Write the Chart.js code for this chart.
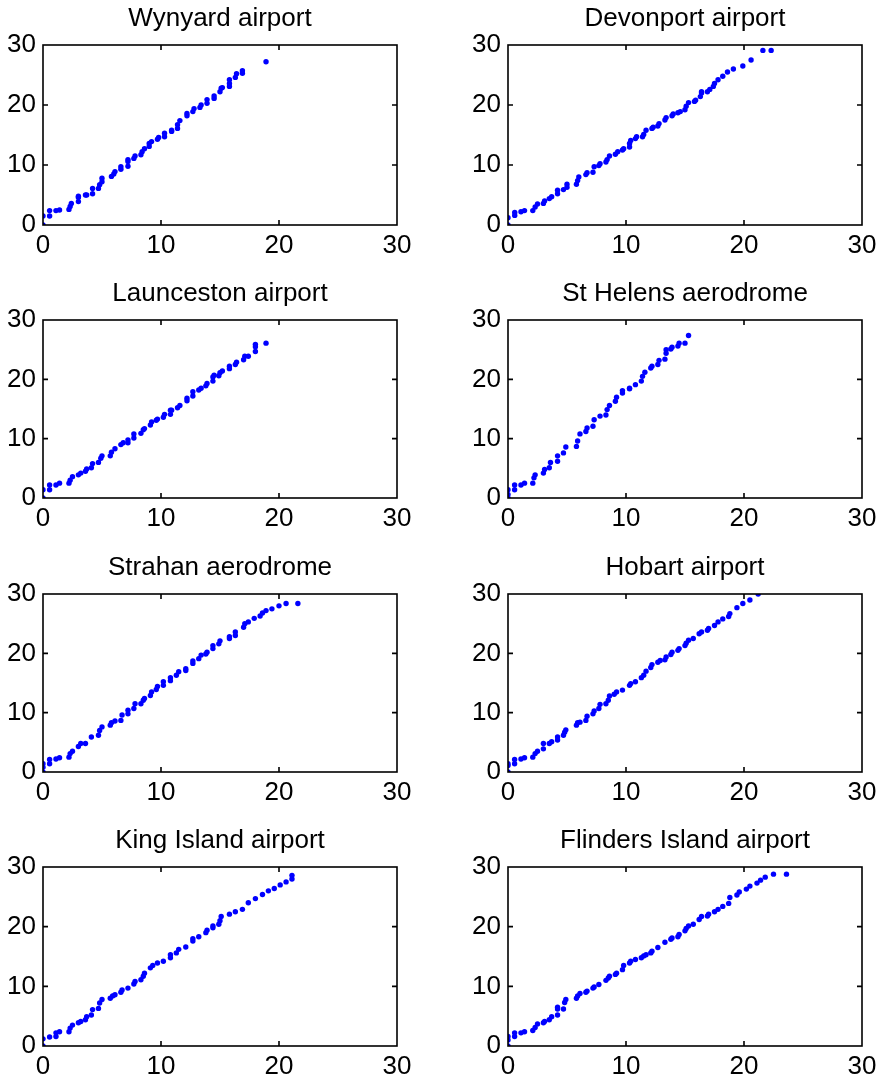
<!DOCTYPE html>
<html>
<head>
<meta charset="utf-8">
<title>Wind speed quantile plots</title>
<script src="https://cdn.jsdelivr.net/npm/chart.js@4.4.1/dist/chart.umd.min.js"></script>
<style>
  html, body { margin: 0; padding: 0; background: #fff; }
  #figure { position: relative; width: 884px; height: 1084px; }
  #figure canvas { position: absolute; }
</style>
</head>
<body>
<div id="figure"></div>
<script>
// ==========================================
// 1. DATA
// ==========================================
const stationNames = [
    'Wynyard airport', 'Devonport airport',
    'Launceston airport', 'St Helens aerodrome',
    'Strahan aerodrome', 'Hobart airport',
    'King Island airport', 'Flinders Island airport'
];

const axisTicks = [0, 10, 20, 30];

const wynyard = [[0,0],[0,1.5],[0.56,1.5],[0.56,2.4],[1.1,2.4],[1.4,2.5],[2.2,2.6],[2.3,3.1],[2.4,3.6],
    [3.0,3.9],[3.0,4.6],[3.0,4.8],[3.6,5.0],[3.7,5.0],[4.2,5.2],[4.2,6.1],[4.7,6.1],[4.8,6.7],[5.0,7.2],[5.0,7.8],
    [5.8,8.1],[6.0,8.5],[6.1,8.9],[6.6,9.3],[6.6,9.7],[7.2,9.8],[7.2,10.6],[7.2,10.9],[7.7,11.1],[7.8,11.5],
    [8.3,11.7],[8.4,12.2],[8.6,12.7],[9.0,13.1],[9.0,13.6],[9.2,13.9],[9.7,14.3],[9.8,14.6],[10.3,14.7],[10.3,15.3],
    [10.9,15.6],[10.9,15.8],[11.4,16.1],[11.4,16.7],[11.6,17.4],[12.2,18.2],[12.2,18.6],[12.7,18.9],[12.8,19.4],
    [13.3,19.6],[13.4,20.0],[13.9,20.3],[13.9,20.9],[14.5,21.1],[14.5,21.5],[15.0,22.2],[15.1,22.8],[15.2,22.9],
    [15.8,23.1],[15.8,23.6],[15.8,24.2],[16.3,24.6],[16.4,25.2],[16.9,25.3],[16.9,25.7],[18.9,27.2]];

const devonport = [[0,0],[0,1.2],[0.57,1.6],[0.57,2.1],[1.1,2.2],[1.4,2.4],[2.1,2.4],[2.3,3.0],[2.5,3.5],
    [3.0,3.6],[3.1,4.0],[3.5,4.4],[3.7,4.7],[4.2,5.2],[4.2,5.8],[4.7,5.9],[5.0,6.3],[5.0,6.8],[5.8,6.8],[5.9,7.4],
    [6.0,8.0],[6.6,8.4],[6.7,8.7],[7.2,8.8],[7.3,9.7],[7.7,9.9],[7.8,10.2],[8.3,10.5],[8.4,10.9],[8.6,11.5],
    [9.1,11.8],[9.3,12.2],[9.7,12.5],[9.8,12.7],[10.3,13.0],[10.3,13.6],[10.4,14.1],[10.8,14.4],[10.9,14.7],
    [11.4,14.7],[11.5,15.1],[11.7,15.8],[12.2,16.1],[12.3,16.3],[12.7,16.5],[12.8,16.9],[13.3,17.5],[13.4,17.9],
    [13.9,18.2],[14.0,18.5],[14.4,18.7],[14.6,18.9],[15.0,19.2],[15.1,19.8],[15.3,20.4],[15.8,20.6],[15.9,20.8],
    [16.3,21.4],[16.4,22.0],[16.4,22.2],[16.9,22.2],[17.1,22.6],[17.4,23.1],[17.5,23.6],[17.8,24.2],[18.2,24.8],
    [18.6,25.5],[19.1,26.0],[19.9,26.5],[20.6,27.5],[21.6,29.1],[22.3,29.1]];

const launceston = [[0,0],[0,1.4],[0.56,1.4],[0.56,2.2],[1.1,2.2],[1.4,2.5],[2.2,2.5],[2.3,3.0],[2.5,3.6],
    [3.0,3.9],[3.2,4.2],[3.6,4.5],[3.7,4.9],[4.1,5.1],[4.2,5.8],[4.7,6.0],[4.9,6.7],[5.0,7.1],[5.7,7.1],[5.8,7.7],
    [6.1,8.3],[6.6,9.0],[6.8,9.3],[7.2,9.3],[7.2,9.8],[7.7,10.1],[7.7,10.8],[8.3,10.9],[8.5,11.5],[8.6,11.7],
    [9.1,12.3],[9.2,12.8],[9.6,13.1],[9.7,13.3],[10.2,13.6],[10.3,14.1],[10.8,14.1],[10.8,14.8],[10.9,14.8],
    [11.4,15.2],[11.6,15.6],[12.2,16.4],[12.2,16.8],[12.7,17.2],[12.7,17.9],[13.2,18.2],[13.4,18.5],[13.8,18.9],
    [13.9,19.3],[14.4,19.7],[14.4,20.4],[14.5,20.7],[14.9,20.6],[15.0,21.1],[15.2,21.4],[15.8,21.8],[15.8,22.2],
    [16.3,22.5],[16.4,22.9],[17.0,23.3],[17.1,23.9],[17.4,23.9],[18.0,24.7],[18.0,25.5],[18.0,25.9],[18.9,26.1]];

const stHelens = [[0,0],[0,0.6],[0,1.4],[0.56,1.4],[0.56,2.2],[1.1,2.2],[1.4,2.5],[2.1,2.5],[2.2,3.4],[2.3,3.9],
    [3.0,4.2],[3.1,4.8],[3.5,5.1],[3.6,6.0],[4.2,6.2],[4.2,7.1],[4.7,7.6],[4.9,8.6],[5.8,8.7],[5.9,9.6],[6.1,10.8],
    [6.6,11.2],[6.7,11.8],[7.2,12.1],[7.3,13.2],[7.8,13.8],[8.3,14.0],[8.4,14.9],[8.6,15.6],[9.1,16.3],[9.2,17.0],
    [9.7,17.7],[9.7,18.1],[10.3,18.4],[10.3,18.5],[10.8,19.1],[11.3,19.7],[11.4,20.5],[11.6,21.2],[12.1,21.9],
    [12.2,22.2],[12.7,22.5],[12.8,23.2],[13.3,23.4],[13.4,24.4],[13.4,25.0],[13.8,25.1],[13.9,25.4],[14.4,25.6],
    [14.5,26.1],[15.0,26.1],[15.3,27.4]];

const strahan = [[0,0],[0,0.8],[0,1.4],[0.56,1.4],[0.56,2.1],[1.1,2.2],[1.4,2.4],[2.2,2.5],[2.3,3.1],[2.5,3.5],
    [3.0,4.3],[3.2,4.8],[3.6,4.8],[4.1,5.9],[4.7,6.2],[4.8,7.0],[5.0,7.6],[5.7,7.9],[5.8,8.3],[6.1,8.6],[6.6,8.7],
    [6.7,9.6],[7.2,9.8],[7.2,10.4],[7.7,10.7],[7.8,11.5],[8.3,11.5],[8.5,12.1],[8.6,12.4],[9.1,12.9],[9.2,13.5],
    [9.6,13.9],[9.7,14.4],[10.2,14.6],[10.2,15.2],[10.8,15.4],[10.8,15.9],[11.3,16.3],[11.5,16.9],[12.1,17.1],
    [12.1,17.4],[12.7,18.3],[12.7,18.7],[13.2,19.1],[13.4,19.7],[13.8,19.9],[13.9,20.2],[14.4,20.8],[14.4,21.3],
    [14.9,21.6],[15.0,22.1],[15.8,22.5],[15.8,22.8],[16.3,23.0],[16.3,23.6],[17.0,24.4],[17.1,25.0],[17.4,25.3],
    [17.9,25.9],[18.4,26.3],[18.6,26.8],[18.9,27.2],[19.4,27.5],[20.0,28.0],[20.6,28.4],[21.6,28.4]];

const hobart = [[0,0],[0,1.1],[0,1.4],[0.56,1.4],[0.56,2.1],[1.1,2.2],[1.4,2.4],[2.1,2.5],[2.3,3.1],[2.5,3.5],
    [3.0,3.9],[3.0,4.8],[3.5,4.8],[3.7,5.1],[4.2,5.4],[4.2,5.9],[4.7,6.2],[4.8,6.7],[4.9,7.1],[5.8,7.9],[5.9,8.3],
    [6.1,8.4],[6.6,8.7],[6.7,9.4],[7.2,9.8],[7.3,10.3],[7.7,10.7],[7.8,11.4],[8.3,11.5],[8.5,12.1],[8.6,12.8],
    [9.0,13.1],[9.2,13.5],[9.7,13.8],[10.3,14.6],[10.4,14.9],[10.8,15.2],[11.3,15.9],[11.5,16.3],[11.7,17.0],
    [12.1,17.6],[12.2,18.1],[12.7,18.5],[12.9,18.8],[13.3,18.9],[13.4,19.4],[13.8,19.8],[13.9,20.2],[14.4,20.5],
    [14.5,20.8],[15.0,21.3],[15.1,21.7],[15.3,22.2],[15.7,22.5],[16.2,23.3],[16.4,23.6],[16.9,23.9],[17.0,24.2],
    [17.5,24.7],[17.8,25.3],[18.2,25.8],[18.7,26.2],[18.8,26.7],[19.4,27.7],[19.9,28.4],[20.5,29.0],[21.2,30.0]];

const kingIsland = [[0,0],[0,1.2],[0.56,1.5],[1.1,1.6],[1.1,2.2],[1.4,2.4],[2.2,2.4],[2.3,3.0],[2.5,3.5],
    [3.0,3.9],[3.2,4.1],[3.6,4.4],[3.7,4.9],[4.1,5.2],[4.2,6.1],[4.7,6.3],[4.8,7.2],[5.0,7.8],[5.7,8.0],[5.9,8.4],
    [6.1,8.6],[6.6,9.0],[6.7,9.4],[7.2,9.7],[7.7,10.4],[7.8,10.8],[8.3,11.1],[8.5,11.7],[8.6,12.2],[9.1,13.1],
    [9.3,13.5],[9.7,13.9],[10.2,14.2],[10.8,14.8],[10.8,15.3],[11.3,15.6],[11.5,16.2],[12.1,16.6],[12.7,17.6],
    [12.7,18.0],[13.2,18.3],[13.8,19.0],[13.9,19.4],[14.4,19.8],[14.4,20.1],[14.9,20.4],[15.0,21.0],[15.1,21.7],
    [15.8,22.1],[16.3,22.5],[16.9,22.9],[17.4,24.0],[18.0,24.7],[18.6,25.4],[19.1,26.0],[19.6,26.4],[20.1,27.0],
    [20.6,27.5],[21.1,28.0],[21.1,28.6]];

const flindersIsland = [[0,0],[0,1.0],[0,1.6],[0.56,1.6],[0.56,2.2],[1.1,2.2],[1.4,2.4],[2.1,2.6],[2.3,3.1],
    [2.5,3.7],[3.0,3.9],[3.1,4.1],[3.5,4.4],[3.7,4.9],[4.2,5.2],[4.2,6.2],[4.2,6.5],[4.7,6.2],[4.8,7.3],[4.9,7.8],
    [5.8,8.0],[5.9,8.4],[6.1,8.8],[6.6,9.0],[6.7,9.2],[7.2,9.7],[7.3,9.9],[7.7,10.3],[8.3,11.0],[8.5,11.4],
    [8.6,11.7],[9.1,12.0],[9.2,12.2],[9.7,12.8],[9.8,13.5],[10.3,13.9],[10.4,14.2],[10.8,14.5],[11.3,14.8],
    [11.5,15.1],[11.7,15.3],[12.1,15.6],[12.2,15.9],[12.7,16.5],[13.3,17.4],[13.8,17.9],[13.9,18.1],[14.4,18.3],
    [14.5,18.7],[15.0,19.3],[15.1,19.7],[15.3,20.1],[15.7,20.4],[16.2,21.2],[16.4,21.7],[16.9,21.8],[17.0,22.1],
    [17.5,22.5],[17.8,22.9],[18.2,23.4],[18.7,23.9],[18.8,24.9],[19.4,25.3],[19.6,25.8],[20.2,26.3],[20.5,26.8],
    [21.1,27.3],[21.4,27.8],[21.8,28.3],[22.5,28.8],[23.6,28.8]];

const stationData = [wynyard, devonport, launceston, stHelens, strahan, hobart, kingIsland, flindersIsland];

// ==========================================
// 2. LAYOUT (4 x 2 grid of axes)
// ==========================================
const colLeft = [43, 508];
const rowTop = [45, 320, 594, 867];
const rowHeight = [180, 178, 178, 179];
const plotWidth = 354;
const yAxisWidth = 44;     // room left of the axes for tick labels
const titleSpace = 44;     // room above the axes for the title
const xAxisHeight = 40;    // room below the axes for tick labels
const rightPad = 24;
const fontSize = 26;

const fontFamily = "'Liberation Sans', Arial, Helvetica, sans-serif";

// MATLAB-style box with inward tick marks on all four sides
const boxPlugin = {
    id: 'matlabBox',
    afterDatasetsDraw(chart) {
        const { ctx, chartArea: a, scales } = chart;
        const len = 5;
        ctx.save();
        ctx.strokeStyle = '#000';
        ctx.lineWidth = 1.6;
        ctx.strokeRect(a.left, a.top, a.right - a.left, a.bottom - a.top);
        ctx.beginPath();
        axisTicks.slice(1, -1).forEach(v => {
            const px = scales.x.getPixelForValue(v);
            ctx.moveTo(px, a.bottom); ctx.lineTo(px, a.bottom - len);
            ctx.moveTo(px, a.top); ctx.lineTo(px, a.top + len);
            const py = scales.y.getPixelForValue(v);
            ctx.moveTo(a.left, py); ctx.lineTo(a.left + len, py);
            ctx.moveTo(a.right, py); ctx.lineTo(a.right - len, py);
        });
        ctx.stroke();
        ctx.restore();
    }
};

function axisOptions(fitFn, pad) {
    return {
        type: 'linear',
        min: axisTicks[0],
        max: axisTicks[axisTicks.length - 1],
        afterBuildTicks: (scale) => { scale.ticks = axisTicks.map(v => ({ value: v })); },
        afterFit: fitFn,
        grid: { display: false, drawTicks: false },
        border: { display: false },
        ticks: {
            padding: pad,
            color: '#000',
            maxRotation: 0,
            autoSkip: false,
            font: { family: fontFamily, size: fontSize }
        }
    };
}

const figure = document.getElementById('figure');

stationNames.forEach((name, i) => {
    const col = i % 2;
    const row = Math.floor(i / 2);

    const canvas = document.createElement('canvas');
    const w = yAxisWidth + plotWidth + rightPad;
    const h = titleSpace + rowHeight[row] + xAxisHeight;
    canvas.width = w;
    canvas.height = h;
    canvas.style.left = (colLeft[col] - yAxisWidth) + 'px';
    canvas.style.top = (rowTop[row] - titleSpace) + 'px';
    canvas.style.width = w + 'px';
    canvas.style.height = h + 'px';
    figure.appendChild(canvas);

    new Chart(canvas.getContext('2d'), {
        type: 'scatter',
        data: {
            datasets: [{
                data: stationData[i].map(p => ({ x: p[0], y: p[1] })),
                backgroundColor: '#0000ff',
                borderWidth: 0,
                pointRadius: 2.7,
                pointHoverRadius: 2.7
            }]
        },
        options: {
            responsive: false,
            animation: false,
            devicePixelRatio: 1,
            layout: { padding: { left: 0, right: rightPad, top: 0, bottom: 0 } },
            plugins: {
                legend: { display: false },
                tooltip: { enabled: false },
                title: {
                    display: true,
                    text: name,
                    fullSize: false,
                    color: '#000',
                    font: { family: fontFamily, size: fontSize, weight: 'normal', lineHeight: 1.2 },
                    padding: { top: 2, bottom: titleSpace - 2 - fontSize * 1.2 }
                }
            },
            scales: {
                x: axisOptions(s => { s.height = xAxisHeight; }, 5),
                y: axisOptions(s => { s.width = yAxisWidth; }, 7)
            }
        },
        plugins: [boxPlugin]
    });
});
</script>
</body>
</html>
